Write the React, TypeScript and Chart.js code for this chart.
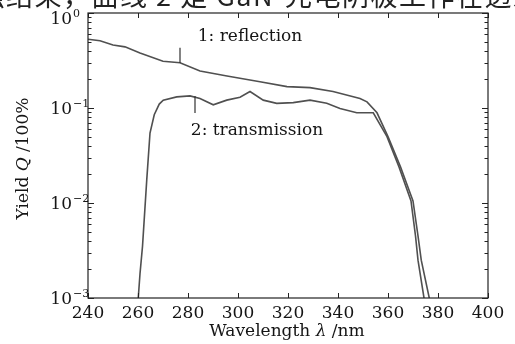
import React, { useEffect, useRef } from 'react';
import { Chart, registerables } from 'chart.js';

Chart.register(...registerables);

// ---- data ----
const reflectionWavelength = [240, 244.8, 250, 254.8, 260.8, 270, 276.8, 284.8, 295.6, 308.8, 319.6, 328.8, 338, 348.8, 351.6, 355.6, 360, 365, 370, 372, 373.3, 376.5, 377.5];
const reflectionYield = [0.53, 0.51, 0.46, 0.44, 0.38, 0.31, 0.30, 0.245, 0.217, 0.189, 0.168, 0.164, 0.149, 0.126, 0.116, 0.089, 0.05, 0.024, 0.0105, 0.0045, 0.0025, 0.001, 0.0007];

const transmissionWavelength = [259.6, 260.1, 260.8, 261.8, 263.5, 264.8, 266.5, 268.5, 270.1, 275.5, 280.8, 284.8, 290.1, 295.5, 300.8, 304.8, 310.1, 315.5, 322.1, 328.8, 335.5, 340.8, 347.5, 354.1, 359.6, 364.4, 369.2, 371, 372, 374.4, 375.3];
const transmissionYield = [0.0007, 0.001, 0.0018, 0.0035, 0.0175, 0.0545, 0.085, 0.11, 0.121, 0.131, 0.134, 0.126, 0.108, 0.121, 0.130, 0.149, 0.121, 0.112, 0.114, 0.121, 0.112, 0.099, 0.089, 0.089, 0.05, 0.024, 0.0105, 0.0045, 0.0025, 0.001, 0.0007];

const xTickValues = [240, 260, 280, 300, 320, 340, 360, 380, 400];
const yDecadeExponents = [0, -1, -2, -3];
const yMinorMultipliers = [2, 3, 4, 5, 6, 7, 8, 9];

const xTitleParts: [string, boolean][] = [['Wavelength ', false], ['λ', true], [' /nm', false]];
const yTitleParts: [string, boolean][] = [['Yield ', false], ['Q', true], [' /100%', false]];

const reflectionLabel = '1: reflection';
const transmissionLabel = '2: transmission';
// label anchors and leader lines, in data coordinates
const reflectionLabelAt = { x: 304.8, y: 0.507 };
const transmissionLabelAt = { x: 307.6, y: 0.052 };
const reflectionLeader = { x: 276.8, from: 0.43, to: 0.298 };
const transmissionLeader = { x: 282.8, from: 0.134, to: 0.0886 };

const captionLeft = '强结果，曲线 2 是 GaN';
const captionRight = '光电阴极工作在透射';

const SERIF = '"DejaVu Serif", serif';
const FS = 17;
const INK = '#151515';
const LINE = '#505050';

function drawParts(ctx: CanvasRenderingContext2D, parts: [string, boolean][], cx: number, y: number, size: number) {
  const widths = parts.map(([t, it]) => {
    ctx.font = `${it ? 'italic ' : ''}${size}px ${SERIF}`;
    return ctx.measureText(t).width;
  });
  const total = widths.reduce((a, b) => a + b, 0);
  let x = cx - total / 2;
  ctx.textAlign = 'left';
  parts.forEach(([t, it], i) => {
    ctx.font = `${it ? 'italic ' : ''}${size}px ${SERIF}`;
    ctx.fillText(t, x, y);
    x += widths[i];
  });
}

const framePlugin = {
  id: 'frame',
  beforeDraw(chart: any) {
    const ctx = chart.ctx as CanvasRenderingContext2D;
    ctx.save();
    ctx.fillStyle = '#ffffff';
    ctx.fillRect(0, 0, chart.width, chart.height);
    // cut-off caption text from the page above
    ctx.fillStyle = '#222';
    ctx.font = '27px "Noto Sans CJK SC"';
    ctx.textBaseline = 'ideographic';
    (ctx as any).letterSpacing = '1.5px';
    ctx.textAlign = 'right';
    ctx.fillText(captionLeft, 274, 9);
    ctx.textAlign = 'left';
    ctx.fillText(captionRight, 285, 9);
    (ctx as any).letterSpacing = '0px';
    ctx.restore();
  },
  afterDraw(chart: any) {
    const ctx = chart.ctx as CanvasRenderingContext2D;
    const a = chart.chartArea;
    const xs = chart.scales.x;
    const ys = chart.scales.y;
    ctx.save();
    ctx.strokeStyle = '#222';
    ctx.lineWidth = 1.2;
    ctx.strokeRect(a.left, a.top, a.right - a.left, a.bottom - a.top);

    ctx.lineWidth = 1;
    ctx.beginPath();
    xTickValues.forEach((v) => {
      const px = Math.round(xs.getPixelForValue(v)) + 0.5;
      ctx.moveTo(px, a.bottom);
      ctx.lineTo(px, a.bottom - 5);
      ctx.moveTo(px, a.top);
      ctx.lineTo(px, a.top + 5);
    });
    yDecadeExponents.forEach((e) => {
      const py = Math.round(ys.getPixelForValue(Math.pow(10, e))) + 0.5;
      ctx.moveTo(a.left, py);
      ctx.lineTo(a.left + 6, py);
      ctx.moveTo(a.right, py);
      ctx.lineTo(a.right - 6, py);
      if (e < 0) {
        yMinorMultipliers.forEach((m) => {
          const pm = Math.round(ys.getPixelForValue(m * Math.pow(10, e))) + 0.5;
          ctx.moveTo(a.left, pm);
          ctx.lineTo(a.left + 3.5, pm);
          ctx.moveTo(a.right, pm);
          ctx.lineTo(a.right - 3.5, pm);
        });
      }
    });
    ctx.stroke();

    // leader lines
    ctx.strokeStyle = '#333';
    ctx.lineWidth = 1.2;
    ctx.beginPath();
    [reflectionLeader, transmissionLeader].forEach((l) => {
      const px = xs.getPixelForValue(l.x);
      ctx.moveTo(px, ys.getPixelForValue(l.from));
      ctx.lineTo(px, ys.getPixelForValue(l.to));
    });
    ctx.stroke();

    ctx.fillStyle = INK;
    ctx.textBaseline = 'alphabetic';
    // x tick labels
    ctx.font = `${FS}px ${SERIF}`;
    ctx.textAlign = 'center';
    xTickValues.forEach((v) => {
      ctx.fillText(String(v), xs.getPixelForValue(v), a.bottom + 20);
    });
    // y tick labels 10^e
    yDecadeExponents.forEach((e) => {
      const py = ys.getPixelForValue(Math.pow(10, e));
      const base = Math.max(py + 6, a.top + 11);
      const baseX = a.left - 16;
      ctx.font = `${FS}px ${SERIF}`;
      ctx.textAlign = 'right';
      ctx.fillText('10', baseX, base);
      ctx.font = `11px ${SERIF}`;
      ctx.textAlign = 'left';
      ctx.fillText(e === 0 ? '0' : '\u2212' + String(-e), baseX + 1, base - 7);
    });

    // annotation labels
    ctx.font = `${FS}px ${SERIF}`;
    ctx.textAlign = 'center';
    ctx.fillText(reflectionLabel, xs.getPixelForValue(reflectionLabelAt.x), ys.getPixelForValue(reflectionLabelAt.y));
    ctx.fillText(transmissionLabel, xs.getPixelForValue(transmissionLabelAt.x), ys.getPixelForValue(transmissionLabelAt.y));

    // axis titles
    drawParts(ctx, xTitleParts, (a.left + a.right) / 2 - 1, a.bottom + 38, FS);
    ctx.save();
    ctx.translate(28, (a.top + a.bottom) / 2 + 3);
    ctx.rotate(-Math.PI / 2);
    drawParts(ctx, yTitleParts, 0, 0, FS);
    ctx.restore();

    ctx.restore();
  },
};

export default function App() {
  const ref = useRef<HTMLCanvasElement>(null);
  useEffect(() => {
    document.body.style.margin = '0';
    const reflection = reflectionWavelength.map((x, i) => ({ x, y: reflectionYield[i] }));
    const transmission = transmissionWavelength.map((x, i) => ({ x, y: transmissionYield[i] }));
    const chart = new Chart(ref.current as HTMLCanvasElement, {
      type: 'line',
      data: {
        datasets: [
          { label: 'reflection', data: reflection, borderColor: LINE, borderWidth: 1.6, pointRadius: 0, fill: false, tension: 0 },
          { label: 'transmission', data: transmission, borderColor: LINE, borderWidth: 1.6, pointRadius: 0, fill: false, tension: 0 },
        ],
      },
      options: {
        responsive: false,
        animation: false,
        devicePixelRatio: 1,
        layout: { padding: { left: 88, top: 13, right: 27, bottom: 46 } },
        plugins: { legend: { display: false }, tooltip: { enabled: false } },
        scales: {
          x: { type: 'linear', min: 240, max: 400, display: false },
          y: { type: 'logarithmic', min: 0.001, max: 1, display: false },
        },
      },
      plugins: [framePlugin],
    });
    return () => chart.destroy();
  }, []);
  return (
    <div style={{ width: 515, height: 344, overflow: 'hidden', background: '#fff' }}>
      <canvas ref={ref} width={515} height={344} />
    </div>
  );
}
